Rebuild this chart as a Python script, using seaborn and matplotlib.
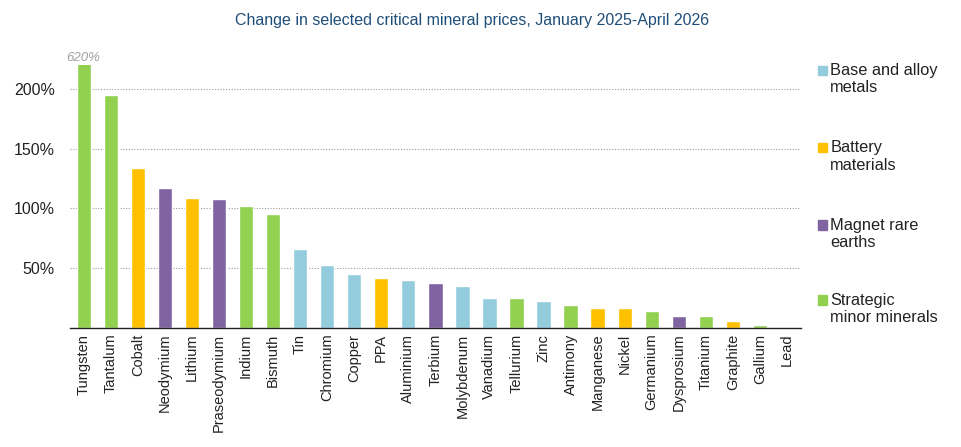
import matplotlib
matplotlib.use("Agg")
import matplotlib.pyplot as plt
import matplotlib.patches as mpatches
import seaborn as sns
import pandas as pd

minerals = ["Tungsten", "Tantalum", "Cobalt", "Neodymium", "Lithium", "Praseodymium",
            "Indium", "Bismuth", "Tin", "Chromium", "Copper", "PPA", "Aluminium",
            "Terbium", "Molybdenum", "Vanadium", "Tellurium", "Zinc", "Antimony",
            "Manganese", "Nickel", "Germanium", "Dysprosium", "Titanium", "Graphite",
            "Gallium", "Lead"]
changes = [620, 195, 134, 117, 109, 107.5, 102, 95, 66, 53, 45, 42, 40, 38, 35,
           25, 25, 23, 19, 16.5, 16.5, 14.5, 10, 10, 6, 3, 0]
groups = ["Strategic minor minerals", "Strategic minor minerals", "Battery materials",
          "Magnet rare earths", "Battery materials", "Magnet rare earths",
          "Strategic minor minerals", "Strategic minor minerals", "Base and alloy metals",
          "Base and alloy metals", "Base and alloy metals", "Battery materials",
          "Base and alloy metals", "Magnet rare earths", "Base and alloy metals",
          "Base and alloy metals", "Strategic minor minerals", "Base and alloy metals",
          "Strategic minor minerals", "Battery materials", "Battery materials",
          "Strategic minor minerals", "Magnet rare earths", "Strategic minor minerals",
          "Battery materials", "Strategic minor minerals", "Base and alloy metals"]
legend_labels = ["Base and alloy\nmetals", "Battery\nmaterials", "Magnet rare\nearths",
                 "Strategic\nminor minerals"]
group_names = ["Base and alloy metals", "Battery materials", "Magnet rare earths",
               "Strategic minor minerals"]
palette = {"Base and alloy metals": "#93CDDD", "Battery materials": "#FFC000",
           "Magnet rare earths": "#8064A2", "Strategic minor minerals": "#92D050"}
yticks = [50, 100, 150, 200]
title = "Change in selected critical mineral prices, January 2025-April 2026"

df = pd.DataFrame({"mineral": minerals, "change": changes, "group": groups})

sns.set_theme(style="white")
plt.rcParams['font.family'] = ['Liberation Sans', 'DejaVu Sans']

fig = plt.figure(figsize=(9.61, 4.47), dpi=100)
ax = fig.add_axes([0.073, 0.266, 0.760, 0.589])

sns.barplot(data=df, x="mineral", y="change", hue="group", palette=palette,
            order=minerals, dodge=False, width=0.53, legend=False, ax=ax,
            saturation=1)

ax.set_ylim(0, 220)
ax.set_xlim(-0.5, len(minerals) - 0.5)
ax.set_yticks(yticks)
ax.set_yticklabels([f"{v}%" for v in yticks], fontsize=11.5, color="#222222")
ax.tick_params(axis="y", length=0, pad=11)
ax.tick_params(axis="x", length=0, pad=4)
ax.set_xticks(range(len(minerals)))
ax.set_xticklabels(minerals, rotation=90, fontsize=10.5, color="#222222")
for y in yticks:
    ax.axhline(y, color="#9a9a9a", linestyle=(0, (1, 1.5)), linewidth=0.8, zorder=0)
for s in ["top", "right", "left"]:
    ax.spines[s].set_visible(False)
ax.spines["bottom"].set_color("#222222")
ax.spines["bottom"].set_linewidth(1.0)
ax.set_xlabel("")
ax.set_ylabel("")

# clipped label for the first bar
ax.text(0, 221, f"{changes[0]:.0f}%", ha="center", va="bottom", fontsize=9.5,
        style="italic", color="#a0a0a0", clip_on=False)

fig.text(0.491, 0.955, title, ha="center", va="center", fontsize=11.5, color="#1F4E79")

# legend
ys = [0.843, 0.670, 0.497, 0.329]
for name, lab, y in zip(group_names, legend_labels, ys):
    fig.patches.append(mpatches.Rectangle((0.8515, y - 0.011), 0.0095, 0.021,
                                          transform=fig.transFigure,
                                          color=palette[name]))
    fig.text(0.864, y + 0.016, lab, ha="left", va="top", fontsize=11.8,
             color="#222222", linespacing=1.2)

fig.savefig("out.png", dpi=100)
